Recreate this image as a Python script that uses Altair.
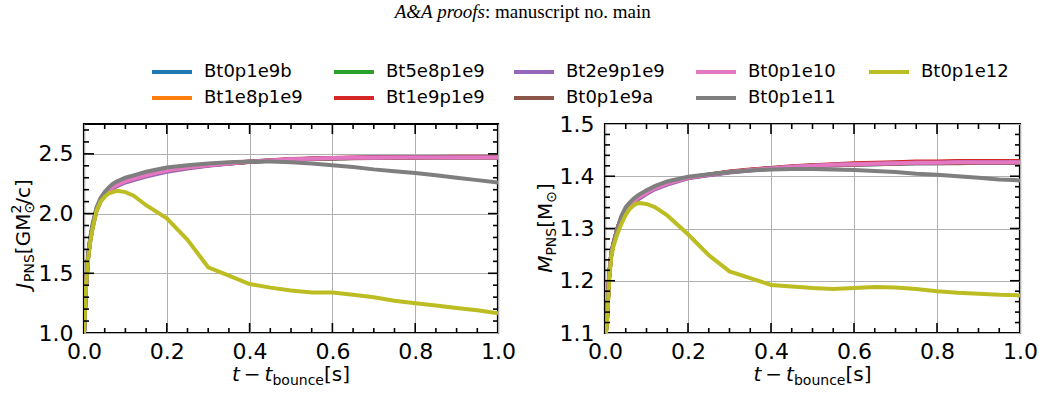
import altair as alt
import pandas as pd

# time after bounce [s]
t_s = [0.0, 0.005, 0.01, 0.015, 0.02, 0.03, 0.04, 0.05, 0.06, 0.07, 0.08, 0.1, 0.12, 0.15,
       0.2, 0.25, 0.3, 0.35, 0.4, 0.45, 0.5, 0.55, 0.6, 0.65, 0.7, 0.75, 0.8, 0.85, 0.9, 0.95, 1.0]

# PNS angular momentum [G Msun^2 / c]
j_bt0p1e9b = [1.00, 1.40, 1.64, 1.78, 1.88, 2.03, 2.11, 2.16, 2.19, 2.22, 2.24, 2.27, 2.29, 2.32, 2.36, 2.385,
              2.405, 2.420, 2.433, 2.443, 2.452, 2.458, 2.462, 2.465, 2.467, 2.468, 2.469, 2.470, 2.470, 2.470, 2.470]
j_bt1e8p1e9 = [1.00, 1.40, 1.64, 1.78, 1.88, 2.03, 2.11, 2.16, 2.19, 2.22, 2.24, 2.27, 2.29, 2.32, 2.36, 2.386,
               2.406, 2.421, 2.434, 2.444, 2.453, 2.459, 2.463, 2.466, 2.468, 2.469, 2.470, 2.471, 2.471, 2.471, 2.471]
j_bt5e8p1e9 = [1.00, 1.40, 1.64, 1.78, 1.88, 2.03, 2.11, 2.16, 2.19, 2.22, 2.24, 2.27, 2.29, 2.32, 2.36, 2.385,
               2.405, 2.421, 2.434, 2.444, 2.453, 2.459, 2.463, 2.466, 2.468, 2.469, 2.470, 2.471, 2.471, 2.472, 2.472]
j_bt1e9p1e9 = [1.00, 1.40, 1.64, 1.78, 1.88, 2.03, 2.11, 2.16, 2.19, 2.22, 2.24, 2.27, 2.29, 2.32, 2.36, 2.386,
               2.407, 2.423, 2.436, 2.447, 2.456, 2.462, 2.466, 2.469, 2.471, 2.472, 2.473, 2.474, 2.475, 2.475, 2.475]
j_bt2e9p1e9 = [1.00, 1.39, 1.63, 1.77, 1.87, 2.02, 2.10, 2.15, 2.18, 2.21, 2.23, 2.26, 2.28, 2.31, 2.35, 2.378,
               2.400, 2.418, 2.433, 2.445, 2.454, 2.460, 2.464, 2.467, 2.469, 2.470, 2.471, 2.472, 2.472, 2.472, 2.472]
j_bt0p1e9a = [1.00, 1.40, 1.64, 1.78, 1.88, 2.03, 2.11, 2.16, 2.19, 2.22, 2.24, 2.27, 2.29, 2.32, 2.36, 2.384,
              2.404, 2.419, 2.432, 2.442, 2.451, 2.457, 2.461, 2.464, 2.466, 2.467, 2.468, 2.469, 2.469, 2.469, 2.469]
j_bt0p1e10 = [1.00, 1.40, 1.64, 1.78, 1.88, 2.03, 2.11, 2.16, 2.19, 2.22, 2.24, 2.27, 2.29, 2.32, 2.36, 2.385,
              2.405, 2.420, 2.435, 2.445, 2.455, 2.460, 2.465, 2.467, 2.468, 2.470, 2.470, 2.470, 2.470, 2.470, 2.470]
j_bt0p1e11 = [1.00, 1.42, 1.66, 1.80, 1.90, 2.05, 2.13, 2.18, 2.22, 2.25, 2.27, 2.30, 2.32, 2.35, 2.385, 2.405,
              2.420, 2.430, 2.435, 2.435, 2.430, 2.420, 2.405, 2.390, 2.370, 2.355, 2.340, 2.320, 2.300, 2.280, 2.260]
j_bt0p1e12 = [1.00, 1.40, 1.62, 1.76, 1.86, 2.02, 2.10, 2.14, 2.17, 2.18, 2.19, 2.18, 2.15, 2.07, 1.96, 1.78,
              1.55, 1.48, 1.41, 1.38, 1.355, 1.34, 1.34, 1.32, 1.30, 1.27, 1.25, 1.23, 1.21, 1.19, 1.165]

# PNS baryonic mass [Msun]
m_bt0p1e9b = [1.08, 1.13, 1.21, 1.25, 1.27, 1.30, 1.322, 1.337, 1.346, 1.353, 1.359, 1.368, 1.377, 1.386, 1.397,
              1.403, 1.408, 1.412, 1.415, 1.418, 1.420, 1.421, 1.422, 1.423, 1.424, 1.425, 1.425, 1.426, 1.426, 1.426, 1.426]
m_bt1e8p1e9 = [1.08, 1.13, 1.21, 1.25, 1.27, 1.30, 1.322, 1.337, 1.346, 1.353, 1.359, 1.368, 1.377, 1.386, 1.397,
               1.403, 1.408, 1.412, 1.415, 1.418, 1.420, 1.422, 1.423, 1.424, 1.425, 1.426, 1.426, 1.427, 1.427, 1.427, 1.427]
m_bt5e8p1e9 = [1.08, 1.13, 1.21, 1.25, 1.27, 1.30, 1.322, 1.337, 1.346, 1.353, 1.359, 1.368, 1.377, 1.386, 1.397,
               1.403, 1.408, 1.412, 1.416, 1.418, 1.421, 1.422, 1.424, 1.425, 1.426, 1.427, 1.427, 1.428, 1.428, 1.428, 1.428]
m_bt1e9p1e9 = [1.08, 1.13, 1.21, 1.25, 1.27, 1.30, 1.322, 1.337, 1.346, 1.353, 1.359, 1.368, 1.377, 1.386, 1.397,
               1.403, 1.409, 1.413, 1.416, 1.419, 1.421, 1.423, 1.425, 1.426, 1.427, 1.428, 1.428, 1.429, 1.429, 1.429, 1.429]
m_bt2e9p1e9 = [1.08, 1.13, 1.21, 1.25, 1.27, 1.30, 1.320, 1.334, 1.343, 1.350, 1.356, 1.366, 1.375, 1.384, 1.396,
               1.402, 1.407, 1.411, 1.415, 1.418, 1.420, 1.422, 1.423, 1.424, 1.425, 1.426, 1.426, 1.427, 1.427, 1.427, 1.427]
m_bt0p1e9a = [1.08, 1.13, 1.21, 1.25, 1.27, 1.30, 1.322, 1.337, 1.346, 1.353, 1.359, 1.368, 1.377, 1.386, 1.397,
              1.403, 1.408, 1.412, 1.415, 1.417, 1.419, 1.421, 1.422, 1.423, 1.424, 1.425, 1.425, 1.425, 1.426, 1.426, 1.426]
m_bt0p1e10 = [1.08, 1.13, 1.21, 1.25, 1.27, 1.30, 1.322, 1.337, 1.346, 1.353, 1.359, 1.368, 1.377, 1.386, 1.397,
              1.403, 1.408, 1.412, 1.415, 1.418, 1.420, 1.422, 1.423, 1.424, 1.425, 1.426, 1.426, 1.427, 1.427, 1.427, 1.427]
m_bt0p1e11 = [1.08, 1.13, 1.21, 1.25, 1.27, 1.30, 1.325, 1.341, 1.350, 1.358, 1.364, 1.373, 1.381, 1.390, 1.399,
              1.404, 1.408, 1.411, 1.413, 1.414, 1.414, 1.413, 1.412, 1.410, 1.408, 1.405, 1.403, 1.400, 1.397, 1.394, 1.392]
m_bt0p1e12 = [1.08, 1.12, 1.20, 1.245, 1.265, 1.29, 1.31, 1.326, 1.338, 1.345, 1.349, 1.347, 1.341, 1.325, 1.289,
              1.249, 1.218, 1.205, 1.192, 1.189, 1.186, 1.184, 1.186, 1.188, 1.187, 1.184, 1.180, 1.177, 1.175, 1.173, 1.172]

# models in drawing order (later ones on top)
models = ["Bt0p1e9b", "Bt1e8p1e9", "Bt5e8p1e9", "Bt1e9p1e9", "Bt2e9p1e9",
          "Bt0p1e9a", "Bt0p1e10", "Bt0p1e11", "Bt0p1e12"]
model_colors = ["#1f77b4", "#ff7f0e", "#2ca02c", "#d62728", "#9467bd",
                "#8c564b", "#e377c2", "#7f7f7f", "#bcbd22"]
j_series = [j_bt0p1e9b, j_bt1e8p1e9, j_bt5e8p1e9, j_bt1e9p1e9, j_bt2e9p1e9,
            j_bt0p1e9a, j_bt0p1e10, j_bt0p1e11, j_bt0p1e12]
m_series = [m_bt0p1e9b, m_bt1e8p1e9, m_bt5e8p1e9, m_bt1e9p1e9, m_bt2e9p1e9,
            m_bt0p1e9a, m_bt0p1e10, m_bt0p1e11, m_bt0p1e12]

t_major = [0.0, 0.2, 0.4, 0.6, 0.8, 1.0]
j_major = [1.0, 1.5, 2.0, 2.5]
m_major = [1.1, 1.2, 1.3, 1.4, 1.5]

rows = []
for name, js, ms in zip(models, j_series, m_series):
    for t, j, m in zip(t_s, js, ms):
        rows.append({"model": name, "t": t, "J": j, "M": m})
df = pd.DataFrame(rows)
one = pd.DataFrame({"k": [0]})

color_of = dict(zip(models, model_colors))
color_scale = alt.Scale(domain=models, range=model_colors)

H = 209
MAJOR_LEN, MINOR_LEN = 10, 5

# advance widths (em) of DejaVu Sans glyphs used in the axis titles
DV = {"t": .392, "\u2212": .838, "b": .635, "o": .612, "u": .634, "n": .634, "c": .550,
      "e": .615, "[": .390, "]": .390, "s": .521, "J": .295, "P": .603, "N": .748,
      "S": .635, "G": .775, "M": .863, "\u2299": .838, "2": .636, "/": .337}


def text_w(s, size):
    return sum(DV[c] for c in s) * size


def piece(s, x, y, size, italic=False, angle=None, font="DejaVu Sans", align="left",
          baseline="alphabetic"):
    kw = dict(text=s, align=align, baseline=baseline, font=font, fontSize=size,
              fontStyle="italic" if italic else "normal", color="black")
    if angle is not None:
        kw["angle"] = angle
    return alt.Chart(one).mark_text(**kw).encode(x=alt.value(x), y=alt.value(y))


def h_title(pieces, cx, base):
    # pieces: (text, size, italic, baseline shift, gap before, advances)
    total = sum(g + (text_w(s, sz) if adv else 0) for s, sz, it, sh, g, adv in pieces)
    x = cx - total / 2
    out = []
    for s, sz, it, sh, g, adv in pieces:
        x += g
        out.append(piece(s, x, base + sh, sz, it))
        if adv:
            x += text_w(s, sz)
    return out


def v_title(pieces, bx, cy):
    # text rotated to read upward; a positive shift moves a piece below the baseline
    total = sum(g + (text_w(s, sz) if adv else 0) for s, sz, it, sh, g, adv in pieces)
    y = cy + total / 2
    out = []
    for s, sz, it, sh, g, adv in pieces:
        y -= g
        out.append(piece(s, bx + sh, y, sz, it, angle=270))
        if adv:
            y -= text_w(s, sz)
    return out


x_title = [("t", 20, True, 0, 0, True), ("\u2212", 20, False, 0, 4, True),
           ("t", 20, True, 0, 4, True), ("bounce", 14, False, 4, 0, True),
           ("[s]", 20, False, 0, 0, True)]
j_title = [("J", 20, True, 0, 0, True), ("PNS", 14, False, 4, 1, True),
           ("[GM", 20, False, 0, 0, True), ("\u2299", 14, False, 4, 0, False),
           ("2", 14, False, -9, 0, True), ("/c]", 20, False, 0, 0, True)]
m_title = [("M", 20, True, 0, 0, True), ("PNS", 14, False, 4, 0, True),
           ("[M", 20, False, 0, 0, True), ("\u2299", 14, False, 4, 0, True),
           ("]", 20, False, 0, 0, True)]

# legend columns (top entry first) and their left edges, relative to the left panel
legend_columns = [["Bt0p1e9b", "Bt1e8p1e9"], ["Bt5e8p1e9", "Bt1e9p1e9"],
                  ["Bt2e9p1e9", "Bt0p1e9a"], ["Bt0p1e10", "Bt0p1e11"], ["Bt0p1e12"]]
legend_col_x = [68, 250, 430, 612, 785]
legend_row_y = [-52, -26]


def legend_layers():
    out = []
    for names, x0 in zip(legend_columns, legend_col_x):
        for name, y0 in zip(names, legend_row_y):
            out.append(alt.Chart(one).mark_rule(color=color_of[name], strokeWidth=4)
                       .encode(x=alt.value(x0), x2=alt.value(x0 + 40), y=alt.value(y0)))
            out.append(piece(name, x0 + 52, y0, 18, baseline="middle"))
    return out


def minor(lo, hi, step, every):
    n = int(round((hi - lo) / step))
    return [round(lo + i * step, 4) for i in range(1, n) if i % every != 0]


def panel(ycol, ydom, ymajor, yminor, W, ytitle, ytitle_x, ytitle_cy):
    xs = alt.Scale(domain=[0, 1], nice=False, zero=False)
    ys = alt.Scale(domain=ydom, nice=False, zero=False)
    xaxis = alt.Axis(values=t_major, format=".1f", title=None, grid=True, labelPadding=8)
    yaxis = alt.Axis(values=ymajor, format=".1f", title=None, grid=True, labelPadding=11)
    X = lambda: alt.X("t:Q", scale=xs, axis=xaxis)
    Y = lambda: alt.Y(f"{ycol}:Q", scale=ys, axis=yaxis)

    layers = []
    for name in models:
        layers.append(
            alt.Chart(df).transform_filter(alt.datum.model == name)
            .mark_line(strokeWidth=4, clip=True)
            .encode(x=X(), y=Y(), color=alt.Color("model:N", scale=color_scale, legend=None))
        )

    # inward ticks on all four sides
    t_in = [v for v in t_major if 0 < v < 1]
    t_min = minor(0, 1, 0.05, 4)
    y_in = [v for v in ymajor if ydom[0] < v < ydom[1]]
    for vals, L in ((t_in, MAJOR_LEN), (t_min, MINOR_LEN)):
        d = pd.DataFrame({"t": vals})
        for y0, y1 in ((H, H - L), (0, L)):
            layers.append(alt.Chart(d).mark_rule(color="black", strokeWidth=1.6)
                          .encode(x=X(), y=alt.value(y0), y2=alt.value(y1)))
    for vals, L in ((y_in, MAJOR_LEN), (yminor, MINOR_LEN)):
        d = pd.DataFrame({ycol: vals})
        for x0, x1 in ((0, L), (W - L, W)):
            layers.append(alt.Chart(d).mark_rule(color="black", strokeWidth=1.6)
                          .encode(y=Y(), x=alt.value(x0), x2=alt.value(x1)))

    layers += h_title(x_title, W / 2, 257)
    layers += v_title(ytitle, ytitle_x, ytitle_cy)
    return layers


left_layers = panel("J", [1.0, 2.75], j_major, minor(1.0, 2.75, 0.1, 5), 414, j_title, -54, 110)
left_layers += legend_layers()
# page header and a white corner marker that pins the page origin
left_layers += [
    piece("A&A proofs", 401, -106, 19, italic=True, font="Liberation Serif", align="right"),
    piece(": manuscript no. main", 401, -106, 19, font="Liberation Serif"),
    alt.Chart(one).mark_rule(color="white", strokeWidth=1).encode(
        x=alt.value(-82), x2=alt.value(-81), y=alt.value(-121.5)),
]
right_layers = panel("M", [1.1, 1.5], m_major, minor(1.1, 1.5, 0.02, 5), 415, m_title, -53, 104)

left = alt.layer(*left_layers).properties(width=414, height=H)
right = alt.layer(*right_layers).properties(width=415, height=H)

chart = (
    alt.hconcat(left, right, spacing=107, bounds="flush")
    .resolve_scale(x="independent", y="independent")
    .properties(padding=0, background="white")
    .configure_view(stroke="black", strokeWidth=2.2)
    .configure_axis(labelFont="DejaVu Sans", labelFontSize=22, labelColor="black",
                    ticks=False, tickSize=0, domain=False, gridColor="#b0b0b0",
                    gridWidth=1, labelOverlap=False, labelFlush=False)
)

chart.save("out.html", embed_options={"renderer": "svg", "actions": False})
